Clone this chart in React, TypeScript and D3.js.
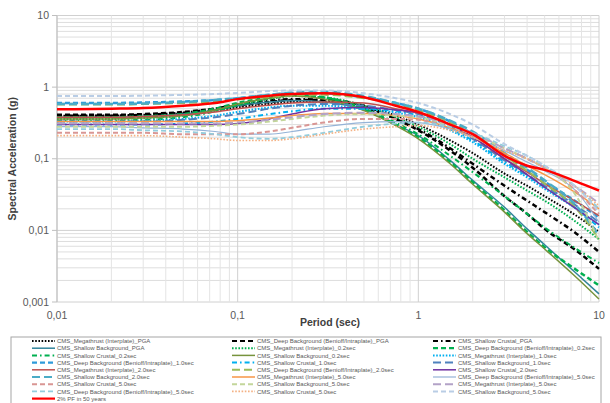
import React from 'react';
import * as d3 from 'd3';

const PERIODS = [0.01, 0.02, 0.03, 0.05, 0.075, 0.1, 0.15, 0.2, 0.3, 0.5, 0.75, 1, 1.5, 2, 3, 4, 5, 7.5, 10];

const MEGA_PGA = [0.4, 0.4, 0.41, 0.43, 0.47, 0.52, 0.58, 0.62, 0.63, 0.55, 0.4, 0.3, 0.18, 0.12, 0.062, 0.042, 0.03, 0.016, 0.0095];
const DEEP_PGA = [0.41, 0.41, 0.42, 0.45, 0.5, 0.55, 0.62, 0.66, 0.66, 0.55, 0.36, 0.25, 0.13, 0.075, 0.03, 0.017, 0.0105, 0.0052, 0.0029];
const SC_PGA = [0.4, 0.4, 0.41, 0.44, 0.5, 0.58, 0.65, 0.68, 0.66, 0.52, 0.36, 0.26, 0.14, 0.085, 0.042, 0.026, 0.018, 0.009, 0.005];
const SB_PGA = [0.38, 0.38, 0.39, 0.42, 0.48, 0.55, 0.62, 0.65, 0.62, 0.48, 0.3, 0.21, 0.095, 0.05, 0.021, 0.0105, 0.0063, 0.0025, 0.0013];
const MEGA_02 = [0.36, 0.36, 0.37, 0.4, 0.47, 0.56, 0.68, 0.75, 0.72, 0.55, 0.38, 0.28, 0.16, 0.1, 0.055, 0.036, 0.026, 0.013, 0.0075];
const DEEP_02 = [0.38, 0.38, 0.39, 0.42, 0.5, 0.6, 0.72, 0.78, 0.72, 0.5, 0.3, 0.2, 0.09, 0.047, 0.019, 0.0095, 0.0058, 0.0028, 0.0017];
const SC_02 = [0.34, 0.34, 0.35, 0.38, 0.46, 0.56, 0.7, 0.78, 0.72, 0.5, 0.32, 0.22, 0.11, 0.065, 0.03, 0.017, 0.011, 0.0055, 0.0035];
const SB_02 = [0.36, 0.36, 0.37, 0.4, 0.48, 0.58, 0.7, 0.75, 0.68, 0.47, 0.29, 0.19, 0.085, 0.044, 0.018, 0.009, 0.0055, 0.0022, 0.0011];
const MEGA_10 = [0.33, 0.33, 0.34, 0.36, 0.4, 0.45, 0.52, 0.55, 0.55, 0.5, 0.44, 0.38, 0.25, 0.17, 0.085, 0.055, 0.038, 0.02, 0.012];
const DEEP_10 = [0.6, 0.6, 0.61, 0.63, 0.66, 0.7, 0.78, 0.82, 0.82, 0.72, 0.6, 0.5, 0.33, 0.22, 0.11, 0.07, 0.048, 0.025, 0.015];
const SC_10 = [0.3, 0.3, 0.3, 0.31, 0.33, 0.36, 0.42, 0.46, 0.5, 0.5, 0.46, 0.4, 0.26, 0.18, 0.09, 0.058, 0.04, 0.02, 0.011];
const SB_10 = [0.33, 0.33, 0.33, 0.35, 0.38, 0.42, 0.5, 0.55, 0.58, 0.55, 0.48, 0.42, 0.28, 0.19, 0.095, 0.06, 0.042, 0.022, 0.013];
const MEGA_20 = [0.38, 0.38, 0.39, 0.41, 0.45, 0.5, 0.56, 0.6, 0.62, 0.6, 0.5, 0.43, 0.3, 0.2, 0.1, 0.065, 0.045, 0.025, 0.016];
const DEEP_20 = [0.57, 0.57, 0.58, 0.6, 0.63, 0.67, 0.73, 0.77, 0.78, 0.7, 0.58, 0.48, 0.32, 0.22, 0.11, 0.068, 0.045, 0.02, 0.0075];
const SC_20 = [0.3, 0.3, 0.3, 0.3, 0.3, 0.31, 0.36, 0.42, 0.5, 0.52, 0.48, 0.44, 0.3, 0.2, 0.1, 0.06, 0.04, 0.02, 0.012];
const SB_20 = [0.58, 0.58, 0.59, 0.62, 0.66, 0.7, 0.78, 0.84, 0.86, 0.75, 0.6, 0.5, 0.34, 0.24, 0.12, 0.075, 0.05, 0.022, 0.0085];
const MEGA_50A = [0.33, 0.33, 0.33, 0.33, 0.33, 0.34, 0.37, 0.4, 0.43, 0.43, 0.4, 0.36, 0.27, 0.2, 0.12, 0.08, 0.06, 0.033, 0.02];
const DEEP_50A = [0.28, 0.28, 0.27, 0.26, 0.24, 0.22, 0.22, 0.24, 0.28, 0.32, 0.33, 0.32, 0.26, 0.2, 0.13, 0.09, 0.068, 0.035, 0.013];
const SC_50A = [0.23, 0.23, 0.23, 0.22, 0.22, 0.22, 0.24, 0.27, 0.32, 0.36, 0.36, 0.35, 0.28, 0.22, 0.14, 0.1, 0.075, 0.035, 0.017];
const SB_50A = [0.28, 0.28, 0.28, 0.28, 0.29, 0.3, 0.33, 0.36, 0.4, 0.42, 0.4, 0.38, 0.29, 0.22, 0.14, 0.1, 0.075, 0.03, 0.007];
const MEGA_50B = [0.31, 0.31, 0.31, 0.31, 0.31, 0.32, 0.35, 0.38, 0.42, 0.44, 0.42, 0.39, 0.3, 0.23, 0.14, 0.1, 0.075, 0.04, 0.024];
const DEEP_50B = [0.26, 0.26, 0.25, 0.24, 0.22, 0.2, 0.19, 0.2, 0.23, 0.28, 0.31, 0.32, 0.28, 0.23, 0.15, 0.11, 0.08, 0.04, 0.02];
const SC_50B = [0.21, 0.21, 0.21, 0.2, 0.19, 0.18, 0.18, 0.19, 0.22, 0.26, 0.28, 0.29, 0.25, 0.2, 0.13, 0.1, 0.075, 0.04, 0.022];
const SB_50B = [0.75, 0.75, 0.76, 0.78, 0.8, 0.83, 0.88, 0.9, 0.9, 0.82, 0.7, 0.6, 0.42, 0.3, 0.16, 0.11, 0.08, 0.04, 0.018];
const UHS_2PCT = [0.49, 0.5, 0.51, 0.55, 0.6, 0.68, 0.76, 0.8, 0.82, 0.72, 0.55, 0.45, 0.3, 0.22, 0.11, 0.08, 0.07, 0.048, 0.036];

const SERIES_NAMES = [
  'CMS_Megathrust (Interplate)_PGA',
  'CMS_Deep Background (Benioff/Intraplate)_PGA',
  'CMS_Shallow Crustal_PGA',
  'CMS_Shallow Background_PGA',
  'CMS_Megathrust (Interplate)_0.2sec',
  'CMS_Deep Background (Benioff/Intraplate)_0.2sec',
  'CMS_Shallow Crustal_0.2sec',
  'CMS_Shallow Background_0.2sec',
  'CMS_Megathrust (Interplate)_1.0sec',
  'CMS_Deep Background (Benioff/Intraplate)_1.0sec',
  'CMS_Shallow Crustal_1.0sec',
  'CMS_Shallow Background_1.0sec',
  'CMS_Megathrust (Interplate)_2.0sec',
  'CMS_Deep Background (Benioff/Intraplate)_2.0sec',
  'CMS_Shallow Crustal_2.0sec',
  'CMS_Shallow Background_2.0sec',
  'CMS_Megathrust (Interplate)_5.0sec',
  'CMS_Deep Background (Benioff/Intraplate)_5.0sec',
  'CMS_Shallow Crustal_5.0sec',
  'CMS_Shallow Background_5.0sec',
  'CMS_Megathrust (Interplate)_5.0sec',
  'CMS_Deep Background (Benioff/Intraplate)_5.0sec',
  'CMS_Shallow Crustal_5.0sec',
  'CMS_Shallow Background_5.0sec',
  '2% PF in 50 years',
];

const SERIES_VALUES = [
  MEGA_PGA, DEEP_PGA, SC_PGA, SB_PGA,
  MEGA_02, DEEP_02, SC_02, SB_02,
  MEGA_10, DEEP_10, SC_10, SB_10,
  MEGA_20, DEEP_20, SC_20, SB_20,
  MEGA_50A, DEEP_50A, SC_50A, SB_50A,
  MEGA_50B, DEEP_50B, SC_50B, SB_50B,
  UHS_2PCT,
];

const DOT = '1.6,1.6';
const DASH = '5,3';
const LONG = '8,4';
const DASHDOT = '5,3,1.6,3';

// stroke, width, dash for each series (same order as above)
const STYLES: [string, number, string | null][] = [
  ['#000000', 2, DOT],
  ['#000000', 2.5, DASH],
  ['#000000', 2.5, DASHDOT],
  ['#31849b', 1.5, null],
  ['#00b050', 2, DOT],
  ['#00b050', 2.5, DASH],
  ['#00b050', 2, DASHDOT],
  ['#77933c', 1.5, null],
  ['#00b0f0', 2, DOT],
  ['#2e9bda', 2.5, DASH],
  ['#00b0f0', 2, DASHDOT],
  ['#4f81bd', 2, LONG],
  ['#c0504d', 1.5, null],
  ['#9bbb59', 2, LONG],
  ['#7030a0', 1.5, null],
  ['#4bacc6', 2.5, LONG],
  ['#f79646', 1.5, null],
  ['#95b3d7', 1.2, null],
  ['#d99694', 2, DASH],
  ['#c3d69b', 2, DASH],
  ['#b3a2c7', 2, LONG],
  ['#93cddd', 1.8, DASH],
  ['#f4b183', 1.6, DOT],
  ['#b9cde5', 2, DASH],
  ['#ff0000', 2.5, null],
];

const X_TICKS = [0.01, 0.1, 1, 10];
const Y_TICKS = [0.001, 0.01, 0.1, 1, 10];

const W = 610;
const H = 403;
const PLOT = { left: 57, right: 599, top: 15.5, bottom: 302 };

const fmt = (v: number) => String(v).replace('.', ',');

export default function App() {
  const x = d3.scaleLog().domain([0.01, 10]).range([PLOT.left, PLOT.right]);
  const y = d3.scaleLog().domain([0.001, 10]).range([PLOT.bottom, PLOT.top]);

  const line = d3
    .line<[number, number]>()
    .x((d) => x(d[0]))
    .y((d) => y(d[1]))
    .curve(d3.curveMonotoneX);

  // log gridlines at 1..9 of every decade
  const gridX: number[] = [];
  const gridY: number[] = [];
  for (let e = -3; e <= 0; e++) {
    for (let k = 1; k <= 9; k++) {
      const v = k * Math.pow(10, e);
      if (e >= -2) gridX.push(v);
      gridY.push(v);
    }
  }
  gridX.push(10);
  gridY.push(10);
  const isMajor = (v: number) => Math.abs(Math.log10(v) - Math.round(Math.log10(v))) < 1e-9;

  const rowH = 7.2;
  const colX = [32, 232, 433];
  const legendTop = 340;

  return (
    <div style={{ position: 'absolute', left: 0, top: 0 }}>
      <svg width={W} height={H} style={{ display: 'block', background: '#fff' }} fontFamily="'Liberation Sans', Arial, sans-serif">
        <g>
          {gridY.map((v, i) => (
            <line key={'gy' + i} x1={PLOT.left} x2={PLOT.right} y1={y(v)} y2={y(v)} stroke={isMajor(v) ? '#d0d0d0' : '#dedede'} strokeWidth={1} />
          ))}
          {gridX.map((v, i) => (
            <line key={'gx' + i} x1={x(v)} x2={x(v)} y1={PLOT.top} y2={PLOT.bottom} stroke={isMajor(v) ? '#d0d0d0' : '#e4e4e4'} strokeWidth={1} />
          ))}
        </g>
        {/* axes */}
        <line x1={PLOT.left} x2={PLOT.left} y1={PLOT.top} y2={PLOT.bottom} stroke="#bfbfbf" strokeWidth={1} />
        {Y_TICKS.map((v) => (
          <g key={'yt' + v}>
            <line x1={PLOT.left - 5} x2={PLOT.left} y1={y(v)} y2={y(v)} stroke="#bfbfbf" />
            <text x={PLOT.left - 8} y={y(v)} dy="0.35em" textAnchor="end" fontSize={10.5} fill="#595959">
              {fmt(v)}
            </text>
          </g>
        ))}
        {X_TICKS.map((v) => (
          <text key={'xt' + v} x={x(v)} y={PLOT.bottom + 17} textAnchor="middle" fontSize={10.5} fill="#595959">
            {fmt(v)}
          </text>
        ))}
        <text
          transform={`translate(16,${(PLOT.top + PLOT.bottom) / 2}) rotate(-90)`}
          textAnchor="middle"
          fontSize={10.5}
          fontWeight="bold"
          fill="#404040"
        >
          Spectral Acceleration (g)
        </text>
        <text x={330} y={326} textAnchor="middle" fontSize={10.5} fontWeight="bold" fill="#404040">
          Period (sec)
        </text>

        {/* series */}
        <g fill="none" strokeLinejoin="round">
          {SERIES_VALUES.map((vals, i) => {
            const [c, w, dash] = STYLES[i];
            const pts = PERIODS.map((p, j) => [p, vals[j]] as [number, number]);
            return (
              <path key={'s' + i} d={line(pts) || ''} stroke={c} strokeWidth={w} strokeDasharray={dash || undefined} />
            );
          })}
        </g>

        {/* legend */}
        <rect x={11} y={337} width={590} height={80} fill="#fff" stroke="#a6a6a6" strokeWidth={1} />
        {SERIES_NAMES.map((name, i) => {
          const col = i % 3;
          const row = Math.floor(i / 3);
          const [c, w, dash] = STYLES[i];
          const cy = legendTop + row * rowH + 1;
          const lx = colX[col];
          return (
            <g key={'lg' + i}>
              <line x1={lx} x2={lx + 23} y1={cy} y2={cy} stroke={c} strokeWidth={Math.min(w, 2.2)} strokeDasharray={dash || undefined} />
              <text x={lx + 25} y={cy} dy="0.35em" fontSize={6} fill="#595959">
                {name}
              </text>
            </g>
          );
        })}
      </svg>
    </div>
  );
}
